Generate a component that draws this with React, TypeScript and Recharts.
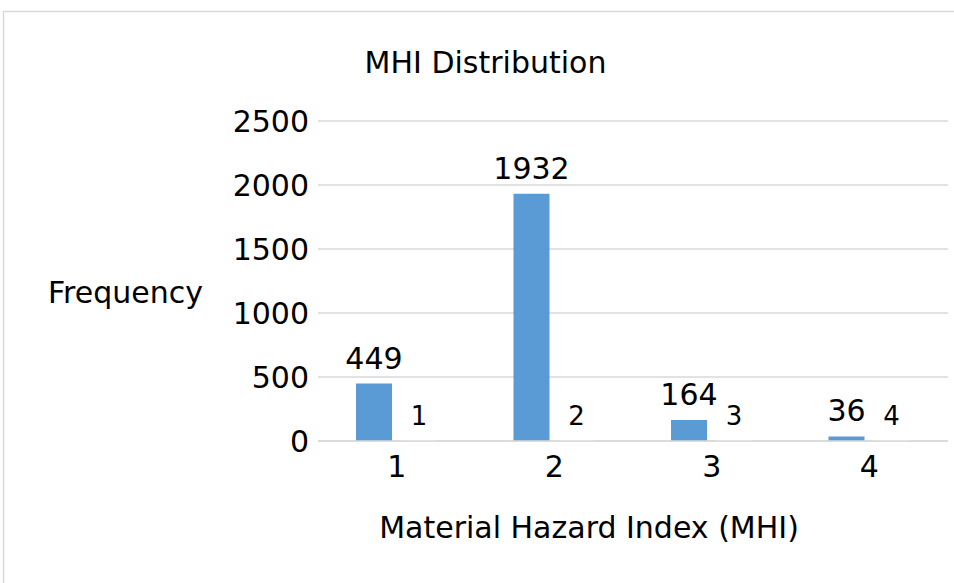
import React from "react";
import { Bar, BarChart, CartesianGrid, LabelList, XAxis, YAxis } from "recharts";

const categories = ["1", "2", "3", "4"];
const frequency = [449, 1932, 164, 36];
const mhiValues = [1, 2, 3, 4];
const yTicks = [0, 500, 1000, 1500, 2000, 2500];

const FONT = "'DejaVu Sans', Verdana, sans-serif";
const BLUE = "#5b9bd5";
const GRID = "#d9d9d9";

const data = categories.map((c, i) => ({
  mhi: c,
  frequency: frequency[i],
  index: mhiValues[i],
}));

export default function App() {
  return (
    <div style={{ position: "absolute", left: 0, top: 0, width: 954, height: 583, background: "#fff" }}>
      <BarChart
        width={954}
        height={583}
        data={data}
        margin={{ top: 121, right: 6, bottom: 112, left: 218 }}
        barSize={36}
        barGap={9}
      >
        <CartesianGrid vertical={false} stroke={GRID} strokeWidth={1.5} />
        <XAxis
          dataKey="mhi"
          height={30}
          axisLine={{ stroke: GRID, strokeWidth: 1.5 }}
          tickLine={false}
          tickSize={0}
          tickMargin={15}
          tick={{ fontSize: 30, fontFamily: FONT, fill: "#000" }}
        />
        <YAxis
          width={100}
          domain={[0, 2500]}
          ticks={yTicks}
          axisLine={false}
          tickLine={false}
          tickSize={0}
          tickMargin={9}
          tick={{ fontSize: 30, fontFamily: FONT, fill: "#000" }}
        />
        <Bar dataKey="frequency" fill={BLUE} isAnimationActive={false}>
          <LabelList dataKey="frequency" position="top" offset={15} style={{ fontSize: 30, fontFamily: FONT, fill: "#000" }} />
        </Bar>
        <Bar dataKey="index" fill="#ffffff" minPointSize={2} isAnimationActive={false}>
          <LabelList dataKey="index" position="top" offset={14} style={{ fontSize: 26, fontFamily: FONT, fill: "#000" }} />
        </Bar>
      </BarChart>
      <svg
        width={954}
        height={583}
        style={{ position: "absolute", left: 0, top: 0, pointerEvents: "none" }}
      >
        <polyline points="960,11.5 3.5,11.5 3.5,590" fill="none" stroke={GRID} strokeWidth={1.5} />
        <text x={485.5} y={73} textAnchor="middle" fontSize={30} fontFamily={FONT} fill="#000">
          MHI Distribution
        </text>
        <text x={48} y={303} textAnchor="start" fontSize={30} fontFamily={FONT} fill="#000">
          Frequency
        </text>
        <text x={589} y={538} textAnchor="middle" fontSize={30} fontFamily={FONT} fill="#000">
          Material Hazard Index (MHI)
        </text>
      </svg>
    </div>
  );
}
